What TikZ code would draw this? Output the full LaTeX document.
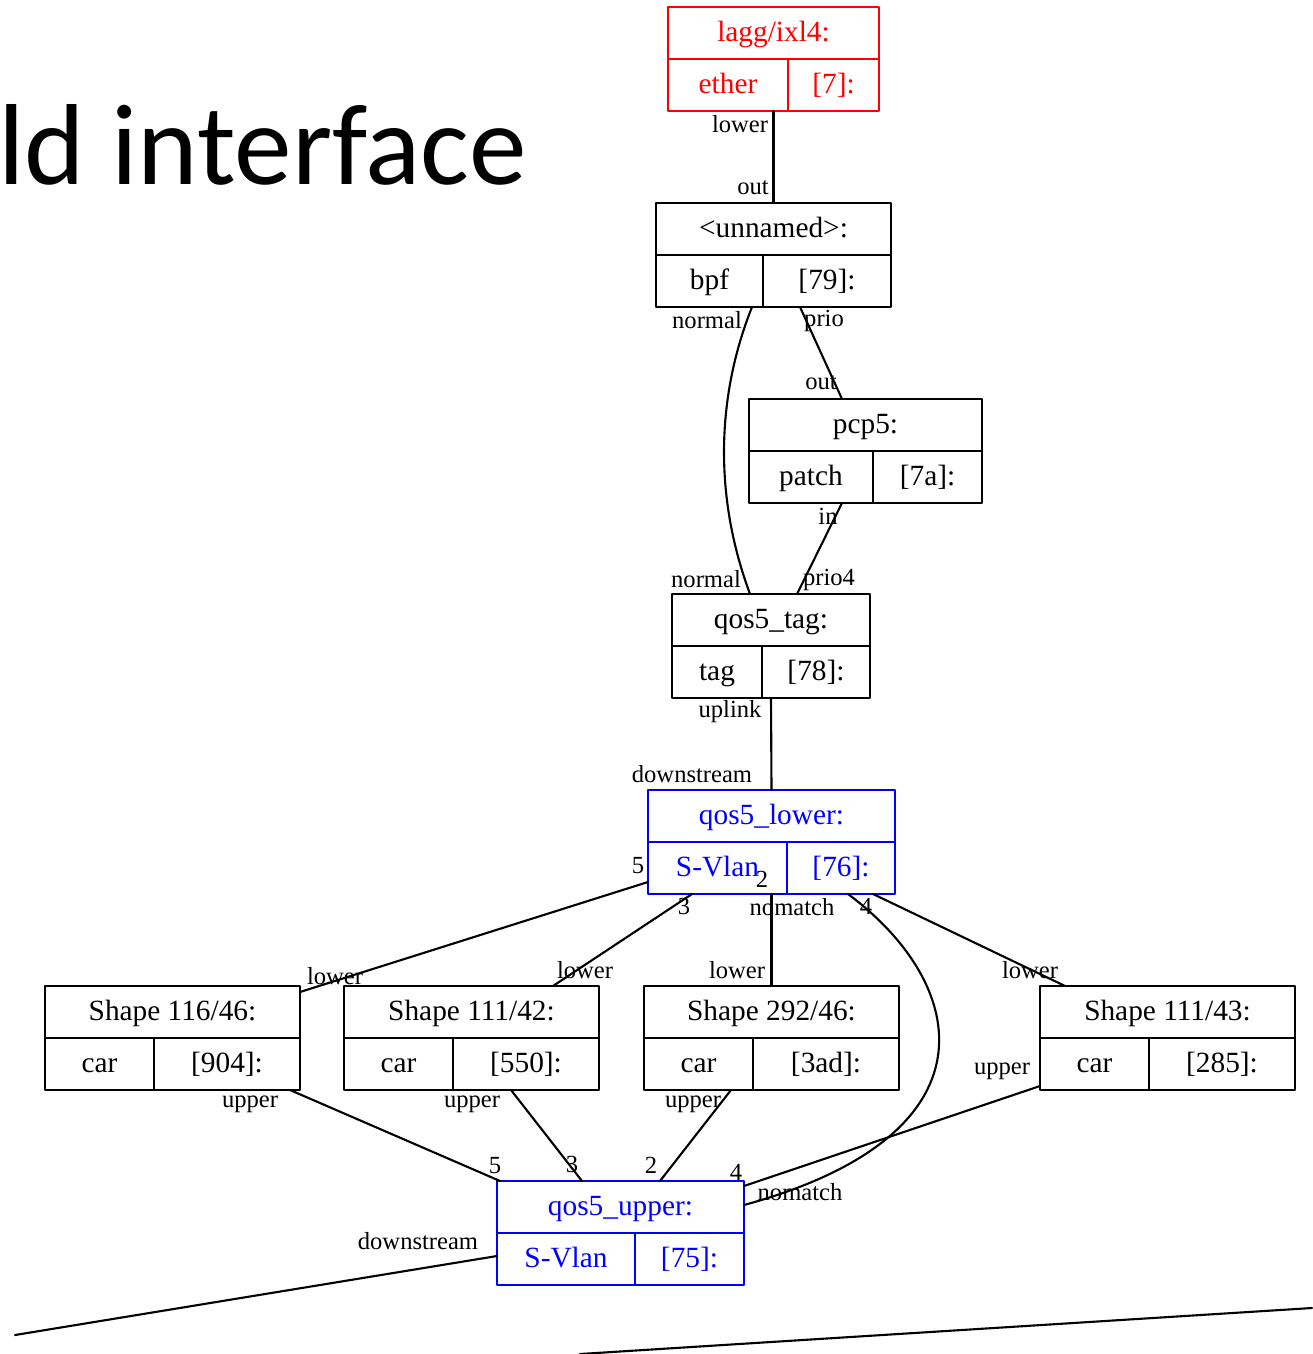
\documentclass[tikz,border=0pt]{standalone}
\usepackage{fontspec}
\setmainfont{Liberation Serif}
\newfontfamily\slidefont{Carlito}
\usepackage{tikz}
\usetikzlibrary{calc}
\definecolor{ffqqqq}{rgb}{1.,0.,0.}
\definecolor{qqqqff}{rgb}{0.,0.,1.}
\tikzstyle{every node}=[font=\fontsize{16.7}{20}\selectfont]
\newcommand{\pxlen}{0.02cm}
% record box: name, centre x, top y, width, left cell width, title, left, right, colour
\newcommand{\recnode}[9]{%
  \node[recbox,draw=#9,minimum width=#4*\pxlen,anchor=north] (#1) at (#2,#3) {};
  \draw[#9,line width=1.2pt] (#1.west) -- (#1.east);
  \draw[#9,line width=1.2pt] ($(#1.south west)+(#5,0)$) -- ($(#1.west)+(#5,0)$);
  \node[rectext,text=#9] (#1-t) at ($(#1.north)+(0,30)$) {#6};
  \node[rectext,text=#9] (#1-l) at ($(#1.south west)+(#5/2,-22)$) {#7};
  \node[rectext,text=#9] (#1-r) at ($(#1.south east)+({-(#4-#5)/2},-22)$) {#8};
}

\begin{document}
\begin{tikzpicture}[line cap=round,line join=round,x=0.02cm,y=-0.02cm,
    recbox/.style={draw,line width=1.2pt,minimum height=104*\pxlen,inner sep=0pt,outer sep=0pt},
    rectext/.style={inner sep=0pt,text height=0.74em,text depth=0.2em},
    portlabel/.style={inner sep=0pt,font=\fontsize{14}{16}\selectfont},
    wire/.style={line width=1.2pt}]
            \useasboundingbox (0,0) rectangle (1312,1354);
            \node[anchor=base west,inner sep=0pt,font=\slidefont\fontsize{65.6}{72}\selectfont] (slidetitle) at (-2,185) {ld interface};
            \recnode{lagg}{773.5}{7}{211}{120}{lagg/ixl4:}{ether}{[7]:}{ffqqqq}
            \recnode{unnamed}{773.5}{203}{235}{107}{<unnamed>:}{bpf}{[79]:}{black}
            \recnode{pcp}{865.5}{399}{233}{124}{pcp5:}{patch}{[7a]:}{black}
            \recnode{qtag}{771}{594}{198}{90}{qos5\_tag:}{tag}{[78]:}{black}
            \recnode{qlow}{771.5}{790}{247}{139}{qos5\_lower:}{S-Vlan}{[76]:}{qqqqff}
            \recnode{shapea}{172.5}{986}{255}{109}{Shape 116/46:}{car}{[904]:}{black}
            \recnode{shapeb}{471.5}{986}{255}{109}{Shape 111/42:}{car}{[550]:}{black}
            \recnode{shapec}{771.5}{986}{255}{109}{Shape 292/46:}{car}{[3ad]:}{black}
            \recnode{shaped}{1167.5}{986}{255}{109}{Shape 111/43:}{car}{[285]:}{black}
            \recnode{qup}{620.5}{1181}{247}{138}{qos5\_upper:}{S-Vlan}{[75]:}{qqqqff}
            \coordinate (downend) at (15,1335);
            \coordinate (slidea) at (580,1354);
            \coordinate (slideb) at (1312,1308);
            \draw [wire] (lagg.south) -- (unnamed.north);
            \draw [wire] ($(unnamed.south)+(-21.5,0)$) .. controls ($(unnamed.south)+(-58.5,93)$) and ($(qtag.north)+(-56,-94)$) .. ($(qtag.north)+(-21,0)$);
            \draw [wire] ($(unnamed.south)+(26.5,0)$) -- ($(pcp.north)+(-23.5,0)$);
            \draw [wire] ($(pcp.south)+(-23.5,0)$) -- ($(qtag.north)+(26,0)$);
            \draw [wire] (qtag.south) -- (qlow.north);
            \draw [wire] ($(qlow.south west)+(0,-12)$) -- ($(shapea.north east)+(0,6)$);
            \draw [wire] ($(qlow.south)+(-79.5,0)$) -- ($(shapeb.north)+(81.5,0)$);
            \draw [wire] (qlow.south) -- (shapec.north);
            \draw [wire] ($(qlow.south)+(76.5,0)$) .. controls ($(qlow.south)+(198.5,91)$) and ($(qup.east)+(256,-98)$) .. ($(qup.east)+(0,-28)$);
            \draw [wire] ($(qlow.south east)+(-22,0)$) -- ($(shaped.north west)+(25,0)$);
            \draw [wire] ($(shapea.south east)+(-10,0)$) -- ($(qup.north west)+(3,0)$);
            \draw [wire] ($(shapeb.south)+(39.5,0)$) -- ($(qup.north)+(-38.5,0)$);
            \draw [wire] ($(shapec.south)+(-40.5,0)$) -- ($(qup.north)+(39.5,0)$);
            \draw [wire] ($(shaped.south west)+(0,-4)$) -- ($(qup.north east)+(0,5)$);
            \draw [wire] ($(qup.south west)+(0,-29)$) -- (downend);
            \draw [wire] (slidea) -- (slideb);
            \begin{scope}[every node/.append style={portlabel}]
            \node (lba) at (740,124) {lower};
            \node (lbb) at (753,188) {out};
            \node (lbc) at (707,320) {normal};
            \node (lbd) at (824,321) {prio};
            \node (lbe) at (821,383) {out};
            \node (lbf) at (828,516) {in};
            \node (lbg) at (706,579) {normal};
            \node (lbh) at (829,580) {prio4};
            \node (lbi) at (730,712) {uplink};
            \node (lbj) at (692,774) {downstream};
            \node (lbk) at (638,866) {5};
            \node (lbl) at (762,879) {2};
            \node (lbm) at (684,906) {3};
            \node (lbn) at (792,907) {nomatch};
            \node (lbo) at (866,906) {4};
            \node (lbp) at (335,976) {lower};
            \node (lbq) at (585,970) {lower};
            \node (lbr) at (737,970) {lower};
            \node (lbs) at (1030,970) {lower};
            \node (lbt) at (250,1104) {upper};
            \node (lbu) at (472,1104) {upper};
            \node (lbv) at (693,1104) {upper};
            \node (lbw) at (1002,1071) {upper};
            \node (lbx) at (495,1166) {5};
            \node (lby) at (572,1164) {3};
            \node (lbz) at (651,1165) {2};
            \node (lbaa) at (736,1172) {4};
            \node (lbab) at (800,1192) {nomatch};
            \node (lbac) at (418,1241) {downstream};
            \end{scope}
        \end{tikzpicture}
\end{document}
